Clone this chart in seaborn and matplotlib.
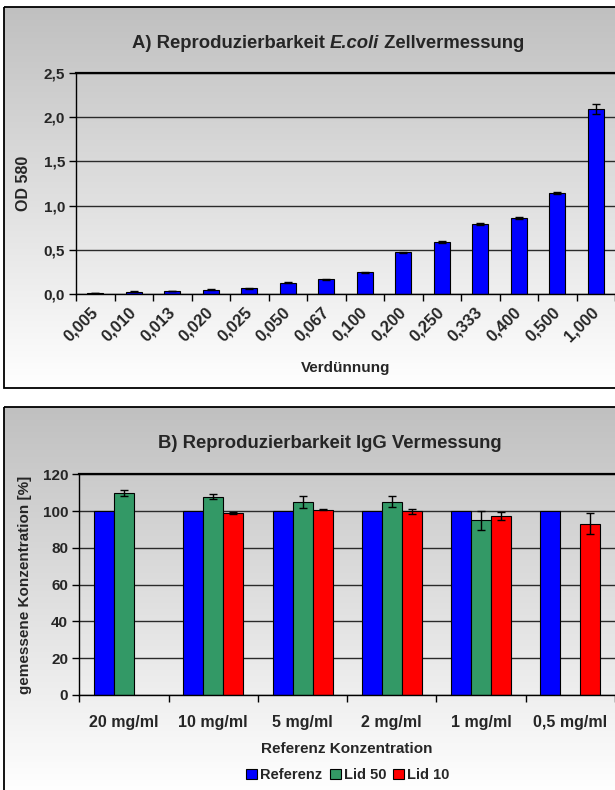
import numpy as np
import pandas as pd
import matplotlib
matplotlib.use("Agg")
import matplotlib.pyplot as plt
from matplotlib.colors import LinearSegmentedColormap
from matplotlib.patches import Rectangle, Patch
import seaborn as sns

# ---- Panel A: E. coli dilution series -------------------------------------
dilutions = ["0,005", "0,010", "0,013", "0,020", "0,025", "0,050", "0,067",
             "0,100", "0,200", "0,250", "0,333", "0,400", "0,500", "1,000"]
od580 = [0.010, 0.025, 0.035, 0.050, 0.065, 0.130, 0.165,
         0.245, 0.470, 0.585, 0.790, 0.855, 1.140, 2.095]
od580_sd = [0.004, 0.005, 0.004, 0.006, 0.005, 0.006, 0.007,
            0.006, 0.010, 0.012, 0.012, 0.012, 0.010, 0.058]

# ---- Panel B: IgG concentrations ------------------------------------------
concentrations = ["20 mg/ml", "10 mg/ml", "5 mg/ml", "2 mg/ml", "1 mg/ml", "0,5 mg/ml"]
series = ["Referenz", "Lid 50", "Lid 10"]
referenz = [100, 100, 100, 100, 100, 100]
lid50 = [109.8, 107.9, 104.9, 105.2, 95.0, np.nan]
lid50_sd = [1.8, 1.5, 3.4, 2.9, 5.1, np.nan]
lid10 = [np.nan, 99.1, 100.7, 99.8, 97.4, 93.2]
lid10_sd = [np.nan, 0.5, 0.3, 1.4, 2.3, 5.5]
series_colors = ["#0000ff", "#339966", "#ff0000"]

sns.set_theme(style="white")
plt.rcParams["font.family"] = ["Liberation Sans", "DejaVu Sans"]
plt.rcParams["font.weight"] = "bold"
plt.rcParams["axes.labelweight"] = "bold"

W, H = 615, 790
fig = plt.figure(figsize=(W / 100, H / 100), dpi=100)

# gradient chart-area backgrounds with a black frame
bg = fig.add_axes([0, 0, 1, 1], zorder=0)
grad = LinearSegmentedColormap.from_list("panel", ["#c0c0c0", "#ffffff"])
for top, bottom in [(7, 388), (407, 793)]:
    bg.imshow(np.linspace(0, 1, 256).reshape(-1, 1), cmap=grad,
              extent=(4, W + 40, bottom, top), aspect="auto",
              interpolation="bilinear")
    bg.add_patch(Rectangle((4, top), W + 40, bottom - top, fill=False,
                           ec="black", lw=1.3))
bg.set_xlim(0, W)
bg.set_ylim(H, 0)
bg.axis("off")


def style_axes(ax):
    ax.set_facecolor("none")
    ax.set_axisbelow(True)
    ax.yaxis.grid(True, color="#2a2a2a", lw=1.0)
    ax.xaxis.grid(False)
    for s in ["left", "bottom"]:
        ax.spines[s].set_visible(True)
        ax.spines[s].set_color("black")
        ax.spines[s].set_linewidth(1.0)
    ax.spines["top"].set_visible(True)
    ax.spines["top"].set_color("black")
    ax.spines["top"].set_linewidth(1.6)
    ax.spines["right"].set_visible(False)
    ax.tick_params(axis="y", which="major", left=True, direction="out",
                   length=5, width=1, color="black", labelsize=11, pad=3)


# ---------------- Panel A ----------------
ax1 = fig.add_axes([76 / W, (H - 294) / H, (W - 76) / W, 221 / H], zorder=1)
sns.barplot(x=dilutions, y=od580, ax=ax1, color="#0000ff", saturation=1,
            width=0.42, edgecolor="black", linewidth=0.8, errorbar=None)
for bar, val, sd in zip(ax1.containers[0], od580, od580_sd):
    cx = bar.get_x() + bar.get_width() / 2
    ax1.errorbar(cx, val, yerr=sd, fmt="none", ecolor="black",
                 elinewidth=1, capsize=3, capthick=1, zorder=3)
ax1.set_ylim(0, 2.5)
ax1.set_xlim(-0.5, len(dilutions) - 0.5)
style_axes(ax1)
yt1 = np.arange(0, 2.51, 0.5)
ax1.set_yticks(yt1)
ax1.set_yticklabels([f"{v:.1f}".replace(".", ",") for v in yt1])
ax1.set_xticks(np.arange(-0.5, len(dilutions), 1), minor=True)
ax1.tick_params(axis="x", which="minor", bottom=True, direction="out",
                length=5, width=1, color="black")
ax1.tick_params(axis="x", which="major", bottom=True, length=0,
                labelsize=12, pad=11.5)
for lbl in ax1.get_xticklabels():
    lbl.set_rotation(45)
    lbl.set_ha("right")
    lbl.set_va("center")
    lbl.set_rotation_mode("anchor")
ax1.set_xlabel("Verdünnung", fontsize=11, fontweight="bold")
ax1.xaxis.label.set_va("center")
ax1.xaxis.set_label_coords(0.5, (294 - 368) / 221)
ax1.set_ylabel("OD 580", fontsize=11.5, fontweight="bold")
ax1.yaxis.label.set_va("center")
ax1.yaxis.set_label_coords((24 - 76) / 539, 0.5)

# title with the species name in italics, built from three text runs
title_kw = dict(fontsize=13.3, fontweight="bold", va="center")
t1 = fig.text(0, 1 - 43 / H, "A) Reproduzierbarkeit ", ha="left", **title_kw)
t2 = fig.text(0, 1 - 43 / H, "E.coli", ha="left", style="italic", **title_kw)
t3 = fig.text(0, 1 - 43 / H, " Zellvermessung", ha="left", **title_kw)
renderer = fig.canvas.get_renderer()
widths = [t.get_window_extent(renderer).width for t in (t1, t2, t3)]
x_px = 328 - sum(widths) / 2
for t, w in zip((t1, t2, t3), widths):
    t.set_x(x_px / W)
    x_px += w

# ---------------- Panel B ----------------
rows = []
for name, vals, sds in [("Referenz", referenz, [np.nan] * len(referenz)),
                        ("Lid 50", lid50, lid50_sd),
                        ("Lid 10", lid10, lid10_sd)]:
    for c, v, s in zip(concentrations, vals, sds):
        rows.append({"Konzentration": c, "Serie": name, "Wert": v, "SD": s})
df = pd.DataFrame(rows).dropna(subset=["Wert"])

ax2 = fig.add_axes([79.3 / W, 95 / H, (W - 79.3) / W, 220.7 / H], zorder=1)
sns.barplot(data=df, x="Konzentration", y="Wert", hue="Serie",
            order=concentrations, hue_order=series, palette=series_colors,
            saturation=1, width=0.672, gap=0, edgecolor="black",
            linewidth=0.8, errorbar=None, legend=False, ax=ax2)
for container, name in zip(ax2.containers, series):
    sub = df[df["Serie"] == name].set_index("Konzentration")
    for bar in container:
        cx = bar.get_x() + bar.get_width() / 2
        cat = concentrations[int(round(cx))]
        if cat in sub.index and not np.isnan(sub.loc[cat, "SD"]):
            ax2.errorbar(cx, sub.loc[cat, "Wert"], yerr=sub.loc[cat, "SD"],
                         fmt="none", ecolor="black", elinewidth=1,
                         capsize=3, capthick=1, zorder=3)
ax2.set_ylim(0, 120)
ax2.set_xlim(-0.5, len(concentrations) - 0.5)
style_axes(ax2)
ax2.set_yticks(np.arange(0, 121, 20))
ax2.set_xticks(np.arange(-0.5, len(concentrations), 1), minor=True)
ax2.tick_params(axis="x", which="minor", bottom=True, direction="out",
                length=5, width=1, color="black")
ax2.tick_params(axis="x", which="major", bottom=True, length=0,
                labelsize=11.5, pad=14.5)
ax2.set_xlabel("Referenz Konzentration", fontsize=11, fontweight="bold")
ax2.xaxis.label.set_va("center")
ax2.xaxis.set_label_coords(0.5, (695 - 749) / 220.7)
ax2.set_ylabel("gemessene Konzentration [%]", fontsize=11, fontweight="bold")
ax2.yaxis.label.set_va("center")
ax2.yaxis.set_label_coords((25 - 79.3) / 535.7, 0.5)

fig.text(330 / W, 1 - 443 / H, "B) Reproduzierbarkeit IgG Vermessung",
         ha="center", va="center", fontsize=13.3, fontweight="bold")

handles = [Patch(facecolor=c, edgecolor="black", linewidth=0.8, label=s)
           for s, c in zip(series, series_colors)]
fig.legend(handles=handles, loc="center", bbox_to_anchor=(348 / W, 1 - 775 / H),
           ncol=3, frameon=False, handlelength=0.75, handleheight=0.75,
           handletextpad=0.2, columnspacing=0.5, borderaxespad=0,
           prop={"size": 10.5, "weight": "bold"})

fig.savefig("out.png", dpi=100)
